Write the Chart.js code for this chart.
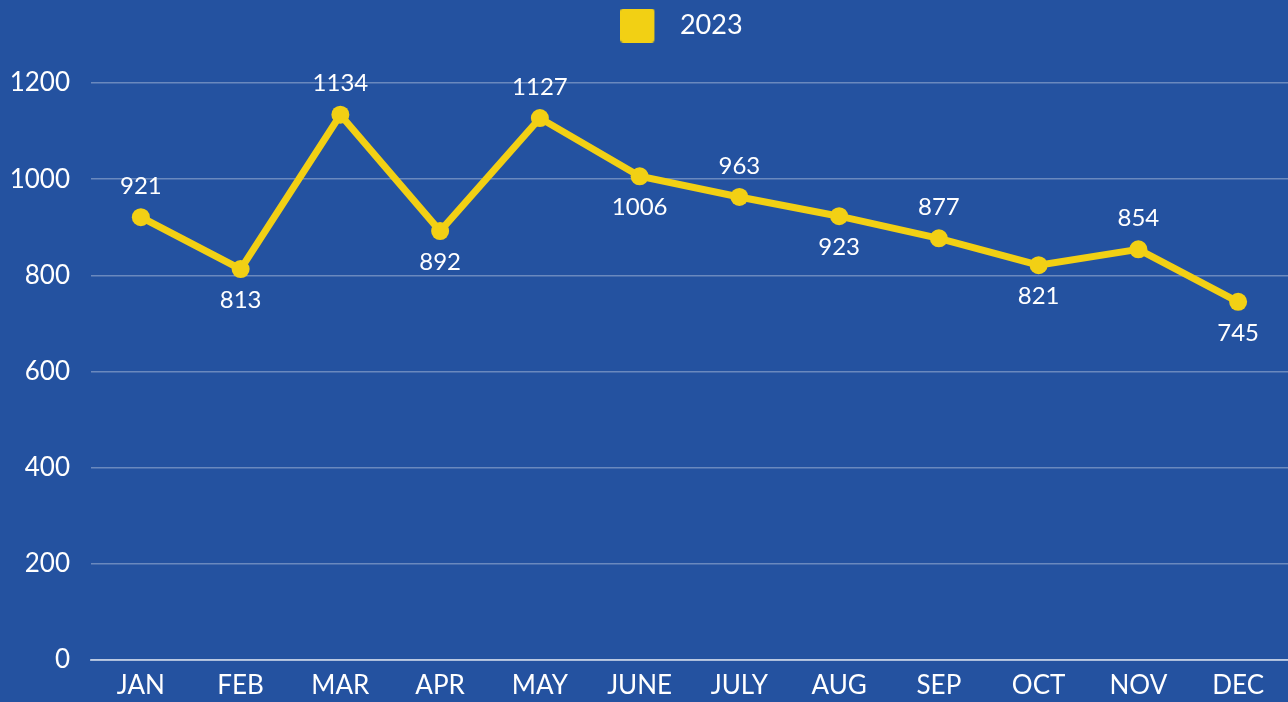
<!DOCTYPE html>
<html lang="en">
<head>
  <meta charset="UTF-8" />
  <title>2023</title>
  <script src="https://cdn.jsdelivr.net/npm/chart.js"></script>
  <style>
    html, body { margin: 0; padding: 0; background: #2452a0; }
    .box { width: 1288px; height: 702px; }
  </style>
</head>
<body>
  <div class="box">
    <canvas id="grafico"></canvas>
  </div>

  <script>
    const months = ['JAN', 'FEB', 'MAR', 'APR', 'MAY', 'JUNE', 'JULY', 'AUG', 'SEP', 'OCT', 'NOV', 'DEC'];
    const values2023 = [921, 813, 1134, 892, 1127, 1006, 963, 923, 877, 821, 854, 745];
    const seriesName = '2023';
    const yTicks = [0, 200, 400, 600, 800, 1000, 1200];

    const amarelo = '#f2d014';
    const fonte = 'Lato, "Open Sans", sans-serif';

    // quadradinho da legenda (34x34, com folga à direita)
    const marcador = document.createElement('canvas');
    marcador.width = 46;
    marcador.height = 34;
    (function () {
      const c = marcador.getContext('2d');
      c.fillStyle = amarelo;
      c.beginPath();
      c.roundRect(0, 0, 34, 34, 3);
      c.fill();
    })();

    // legenda: mais espaço embaixo e um pouco para a esquerda
    const legendaEspaco = {
      id: 'legendaEspaco',
      beforeInit(chart) {
        const fitOrig = chart.legend.fit;
        chart.legend.fit = function () {
          fitOrig.bind(chart.legend)();
          this.height += 34;
        };
      },
      afterLayout(chart) {
        chart.legend.left -= 8;
        chart.legend.right -= 8;
      }
    };

    // rótulos dos valores, alternando acima / abaixo
    const rotulos = {
      id: 'rotulos',
      afterDatasetsDraw(chart) {
        const ctx = chart.ctx;
        const meta = chart.getDatasetMeta(0);
        ctx.save();
        ctx.font = '24px ' + fonte;
        ctx.fillStyle = '#ffffff';
        ctx.textAlign = 'center';
        ctx.textBaseline = 'middle';
        meta.data.forEach((pt, i) => {
          const dy = i % 2 === 0 ? -31 : 31;
          ctx.fillText(values2023[i], pt.x, pt.y + dy);
        });
        ctx.restore();
      }
    };

    new Chart(document.getElementById('grafico'), {
      type: 'line',
      data: {
        labels: months,
        datasets: [{
          label: seriesName,
          data: values2023,
          borderColor: amarelo,
          backgroundColor: amarelo,
          borderWidth: 7,
          pointRadius: 9,
          pointHoverRadius: 9,
          pointBackgroundColor: amarelo,
          pointBorderWidth: 0,
          tension: 0
        }]
      },
      options: {
        responsive: true,
        maintainAspectRatio: false,
        animation: false,
        layout: { autoPadding: false, padding: 0 },
        plugins: {
          tooltip: { enabled: false },
          legend: {
            position: 'top',
            fullSize: false,
            labels: {
              color: '#ffffff',
              usePointStyle: true,
              pointStyleWidth: 46,
              padding: 12,
              font: { family: fonte, size: 27 },
              generateLabels(chart) {
                return [{
                  text: seriesName,
                  pointStyle: marcador,
                  fillStyle: amarelo,
                  strokeStyle: amarelo,
                  lineWidth: 0,
                  fontColor: '#ffffff',
                  datasetIndex: 0
                }];
              }
            }
          }
        },
        scales: {
          x: {
            offset: true,
            afterFit(axis) { axis.height = 42; },
            grid: { display: false, drawTicks: false },
            border: { display: true, color: 'rgba(255,255,255,0.55)', width: 2 },
            ticks: {
              color: '#ffffff',
              padding: 10,
              font: { family: fonte, size: 26 }
            }
          },
          y: {
            min: 0,
            max: 1200,
            afterFit(axis) { axis.width = 91; },
            afterBuildTicks(axis) {
              axis.ticks = yTicks.map(v => ({ value: v }));
            },
            grid: { color: 'rgba(255,255,255,0.32)', lineWidth: 1.5, drawTicks: false },
            border: { display: false },
            ticks: {
              color: '#ffffff',
              padding: 21,
              font: { family: fonte, size: 26 },
              callback: v => String(v)
            }
          }
        }
      },
      plugins: [legendaEspaco, rotulos]
    });
  </script>
</body>
</html>
